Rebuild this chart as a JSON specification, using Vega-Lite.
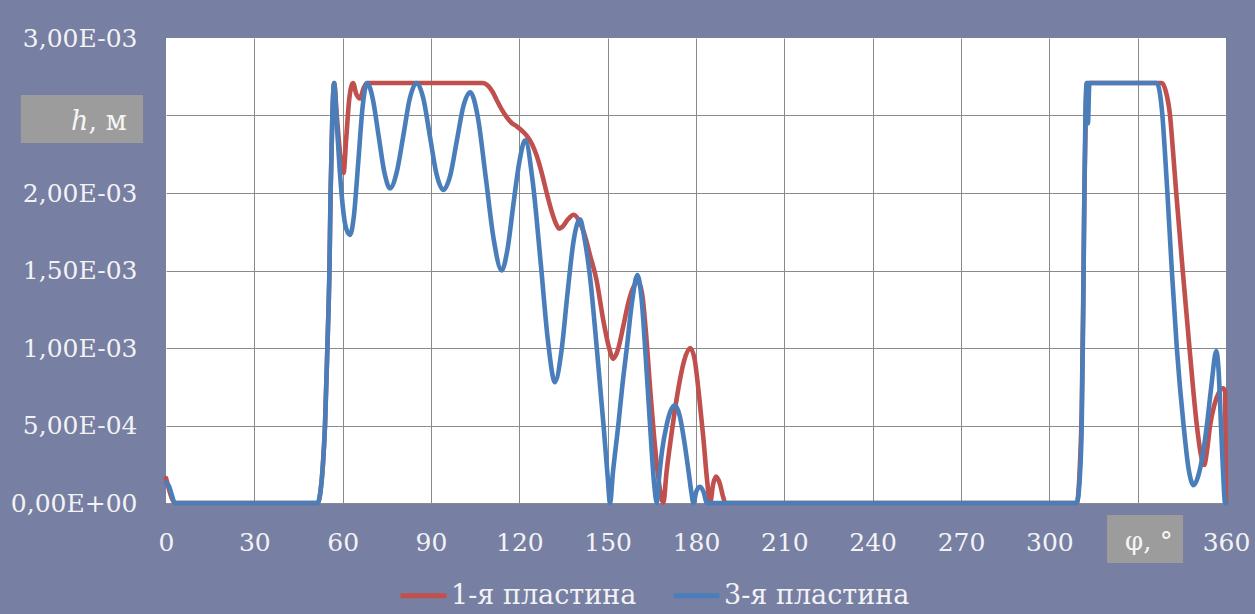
{
  "$schema": "https://vega.github.io/schema/vega-lite/v6.json",
  "width": 1060,
  "height": 465,
  "autosize": {"type": "none"},
  "padding": {"left": 166, "top": 38, "right": 29, "bottom": 111},
  "background": "#777fa3",
  "config": {
    "view": {"fill": "white", "stroke": null},
    "font": "DejaVu Serif"
  },
  "datasets": {
    "curves": [
      {"plate":"1-я пластина","phi":0,"h":0.16e-3},{"plate":"1-я пластина","phi":1,"h":0.09e-3},{"plate":"1-я пластина","phi":2,"h":0.03e-3},{"plate":"1-я пластина","phi":3,"h":0},
      {"plate":"1-я пластина","phi":51.5,"h":0},{"plate":"1-я пластина","phi":52.5,"h":0.08e-3},{"plate":"1-я пластина","phi":53.3,"h":0.25e-3},{"plate":"1-я пластина","phi":54,"h":0.5e-3},
      {"plate":"1-я пластина","phi":54.8,"h":1.0e-3},{"plate":"1-я пластина","phi":55.5,"h":1.5e-3},{"plate":"1-я пластина","phi":55.9,"h":2.0e-3},{"plate":"1-я пластина","phi":56.5,"h":2.5e-3},
      {"plate":"1-я пластина","phi":57.1,"h":2.71e-3},{"plate":"1-я пластина","phi":58,"h":2.5e-3},{"plate":"1-я пластина","phi":59,"h":2.28e-3},{"plate":"1-я пластина","phi":60.3,"h":2.13e-3},
      {"plate":"1-я пластина","phi":61.2,"h":2.35e-3},{"plate":"1-я пластина","phi":62.2,"h":2.6e-3},{"plate":"1-я пластина","phi":63.5,"h":2.71e-3},{"plate":"1-я пластина","phi":64.6,"h":2.64e-3},
      {"plate":"1-я пластина","phi":65.9,"h":2.61e-3},{"plate":"1-я пластина","phi":67,"h":2.67e-3},{"plate":"1-я пластина","phi":68.2,"h":2.71e-3},{"plate":"1-я пластина","phi":107.5,"h":2.71e-3},
      {"plate":"1-я пластина","phi":109.5,"h":2.69e-3},{"plate":"1-я пластина","phi":111,"h":2.65e-3},{"plate":"1-я пластина","phi":112.3,"h":2.6e-3},{"plate":"1-я пластина","phi":114,"h":2.54e-3},
      {"plate":"1-я пластина","phi":115.7,"h":2.49e-3},{"plate":"1-я пластина","phi":117.5,"h":2.45e-3},{"plate":"1-я пластина","phi":119.1,"h":2.43e-3},{"plate":"1-я пластина","phi":121,"h":2.4e-3},
      {"plate":"1-я пластина","phi":122.5,"h":2.37e-3},{"plate":"1-я пластина","phi":124.2,"h":2.32e-3},{"plate":"1-я пластина","phi":125.9,"h":2.24e-3},{"plate":"1-я пластина","phi":127.6,"h":2.13e-3},
      {"plate":"1-я пластина","phi":129.3,"h":2.0e-3},{"plate":"1-я пластина","phi":131,"h":1.88e-3},{"plate":"1-я пластина","phi":132.5,"h":1.8e-3},{"plate":"1-я пластина","phi":133.5,"h":1.77e-3},
      {"plate":"1-я пластина","phi":135,"h":1.79e-3},{"plate":"1-я пластина","phi":136.5,"h":1.83e-3},{"plate":"1-я пластина","phi":138.5,"h":1.86e-3},{"plate":"1-я пластина","phi":140.3,"h":1.82e-3},
      {"plate":"1-я пластина","phi":142,"h":1.74e-3},{"plate":"1-я пластина","phi":144,"h":1.6e-3},{"plate":"1-я пластина","phi":146.3,"h":1.43e-3},{"plate":"1-я пластина","phi":148.5,"h":1.18e-3},
      {"plate":"1-я пластина","phi":150.5,"h":1.0e-3},{"plate":"1-я пластина","phi":151.9,"h":0.93e-3},{"plate":"1-я пластина","phi":153.5,"h":0.99e-3},{"plate":"1-я пластина","phi":155.3,"h":1.14e-3},
      {"plate":"1-я пластина","phi":157,"h":1.29e-3},{"plate":"1-я пластина","phi":158.7,"h":1.39e-3},{"plate":"1-я пластина","phi":160.3,"h":1.43e-3},{"plate":"1-я пластина","phi":161.7,"h":1.35e-3},
      {"plate":"1-я пластина","phi":163,"h":1.1e-3},{"plate":"1-я пластина","phi":164.5,"h":0.72e-3},{"plate":"1-я пластина","phi":166,"h":0.38e-3},{"plate":"1-я пластина","phi":167.5,"h":0.12e-3},
      {"plate":"1-я пластина","phi":168.9,"h":0},{"plate":"1-я пластина","phi":170,"h":0.2e-3},{"plate":"1-я пластина","phi":171.5,"h":0.42e-3},{"plate":"1-я пластина","phi":173,"h":0.62e-3},
      {"plate":"1-я пластина","phi":174.5,"h":0.79e-3},{"plate":"1-я пластина","phi":176,"h":0.92e-3},{"plate":"1-я пластина","phi":178,"h":1.0e-3},{"plate":"1-я пластина","phi":179.5,"h":0.93e-3},
      {"plate":"1-я пластина","phi":181,"h":0.7e-3},{"plate":"1-я пластина","phi":182.5,"h":0.42e-3},{"plate":"1-я пластина","phi":183.8,"h":0.14e-3},{"plate":"1-я пластина","phi":184.8,"h":0},
      {"plate":"1-я пластина","phi":185.8,"h":0.12e-3},{"plate":"1-я пластина","phi":186.8,"h":0.17e-3},{"plate":"1-я пластина","phi":188,"h":0.13e-3},{"plate":"1-я пластина","phi":189.2,"h":0.04e-3},
      {"plate":"1-я пластина","phi":190,"h":0},{"plate":"1-я пластина","phi":309.3,"h":0},{"plate":"1-я пластина","phi":310.5,"h":0.3e-3},{"plate":"1-я пластина","phi":311,"h":0.6e-3},
      {"plate":"1-я пластина","phi":311.5,"h":1.3e-3},{"plate":"1-я пластина","phi":311.9,"h":2.0e-3},{"plate":"1-я пластина","phi":312.4,"h":2.55e-3},{"plate":"1-я пластина","phi":312.8,"h":2.71e-3},
      {"plate":"1-я пластина","phi":338.2,"h":2.71e-3},{"plate":"1-я пластина","phi":339.5,"h":2.66e-3},{"plate":"1-я пластина","phi":341,"h":2.5e-3},{"plate":"1-я пластина","phi":342,"h":2.27e-3},
      {"plate":"1-я пластина","phi":343.1,"h":2.0e-3},{"plate":"1-я пластина","phi":345.3,"h":1.5e-3},{"plate":"1-я пластина","phi":347.6,"h":1.0e-3},{"plate":"1-я пластина","phi":350.1,"h":0.5e-3},
      {"plate":"1-я пластина","phi":351.3,"h":0.33e-3},{"plate":"1-я пластина","phi":352.6,"h":0.245e-3},{"plate":"1-я пластина","phi":353.5,"h":0.33e-3},{"plate":"1-я пластина","phi":354.6,"h":0.5e-3},
      {"plate":"1-я пластина","phi":356,"h":0.63e-3},{"plate":"1-я пластина","phi":357.5,"h":0.71e-3},{"plate":"1-я пластина","phi":359,"h":0.74e-3},{"plate":"1-я пластина","phi":359.7,"h":0.72e-3},
      {"plate":"1-я пластина","phi":360,"h":0},

      {"plate":"3-я пластина","phi":0,"h":0.13e-3},{"plate":"3-я пластина","phi":1,"h":0.11e-3},{"plate":"3-я пластина","phi":2,"h":0.05e-3},{"plate":"3-я пластина","phi":3,"h":0},
      {"plate":"3-я пластина","phi":51.5,"h":0},{"plate":"3-я пластина","phi":52.5,"h":0.08e-3},{"plate":"3-я пластина","phi":53.3,"h":0.25e-3},{"plate":"3-я пластина","phi":54,"h":0.5e-3},
      {"plate":"3-я пластина","phi":54.8,"h":1.0e-3},{"plate":"3-я пластина","phi":55.5,"h":1.5e-3},{"plate":"3-я пластина","phi":55.9,"h":2.0e-3},{"plate":"3-я пластина","phi":56.5,"h":2.5e-3},
      {"plate":"3-я пластина","phi":57.1,"h":2.71e-3},{"plate":"3-я пластина","phi":58,"h":2.45e-3},{"plate":"3-я пластина","phi":59,"h":2.15e-3},{"plate":"3-я пластина","phi":60,"h":1.92e-3},
      {"plate":"3-я пластина","phi":61.2,"h":1.77e-3},{"plate":"3-я пластина","phi":62.5,"h":1.73e-3},{"plate":"3-я пластина","phi":63.8,"h":1.85e-3},{"plate":"3-я пластина","phi":65.3,"h":2.2e-3},
      {"plate":"3-я пластина","phi":66.8,"h":2.56e-3},{"plate":"3-я пластина","phi":68.3,"h":2.71e-3},{"plate":"3-я пластина","phi":70.2,"h":2.61e-3},{"plate":"3-я пластина","phi":72.2,"h":2.37e-3},
      {"plate":"3-я пластина","phi":74.2,"h":2.13e-3},{"plate":"3-я пластина","phi":76.1,"h":2.03e-3},{"plate":"3-я пластина","phi":78.3,"h":2.13e-3},{"plate":"3-я пластина","phi":80.6,"h":2.37e-3},
      {"plate":"3-я пластина","phi":82.8,"h":2.61e-3},{"plate":"3-я пластина","phi":85.1,"h":2.71e-3},{"plate":"3-я пластина","phi":87.4,"h":2.61e-3},{"plate":"3-я пластина","phi":89.6,"h":2.37e-3},
      {"plate":"3-я пластина","phi":91.9,"h":2.12e-3},{"plate":"3-я пластина","phi":94.2,"h":2.02e-3},{"plate":"3-я пластина","phi":96.5,"h":2.11e-3},{"plate":"3-я пластина","phi":98.8,"h":2.34e-3},
      {"plate":"3-я пластина","phi":101,"h":2.56e-3},{"plate":"3-я пластина","phi":103.3,"h":2.65e-3},{"plate":"3-я пластина","phi":105.9,"h":2.49e-3},{"plate":"3-я пластина","phi":108.6,"h":2.1e-3},
      {"plate":"3-я пластина","phi":111.3,"h":1.7e-3},{"plate":"3-я пластина","phi":114,"h":1.5e-3},{"plate":"3-я пластина","phi":116,"h":1.64e-3},{"plate":"3-я пластина","phi":118,"h":1.93e-3},
      {"plate":"3-я пластина","phi":120,"h":2.2e-3},{"plate":"3-я пластина","phi":122,"h":2.34e-3},{"plate":"3-я пластина","phi":124.5,"h":2.08e-3},{"plate":"3-я пластина","phi":127.3,"h":1.54e-3},
      {"plate":"3-я пластина","phi":129.7,"h":1.05e-3},{"plate":"3-я пластина","phi":132.1,"h":0.78e-3},{"plate":"3-я пластина","phi":134.3,"h":0.98e-3},{"plate":"3-я пластина","phi":136.4,"h":1.36e-3},
      {"plate":"3-я пластина","phi":138.5,"h":1.7e-3},{"plate":"3-я пластина","phi":140.6,"h":1.83e-3},{"plate":"3-я пластина","phi":142.2,"h":1.7e-3},{"plate":"3-я пластина","phi":144,"h":1.46e-3},
      {"plate":"3-я пластина","phi":146.3,"h":1.0e-3},{"plate":"3-я пластина","phi":148.6,"h":0.5e-3},{"plate":"3-я пластина","phi":150,"h":0.17e-3},{"plate":"3-я пластина","phi":150.8,"h":0},
      {"plate":"3-я пластина","phi":151.8,"h":0.2e-3},{"plate":"3-я пластина","phi":153.6,"h":0.5e-3},{"plate":"3-я пластина","phi":155,"h":0.76e-3},{"plate":"3-я пластина","phi":156.5,"h":1.0e-3},
      {"plate":"3-я пластина","phi":158.3,"h":1.3e-3},{"plate":"3-я пластина","phi":160.1,"h":1.47e-3},{"plate":"3-я пластина","phi":161.5,"h":1.32e-3},{"plate":"3-я пластина","phi":163,"h":0.92e-3},
      {"plate":"3-я пластина","phi":164.5,"h":0.47e-3},{"plate":"3-я пластина","phi":165.8,"h":0.12e-3},{"plate":"3-я пластина","phi":166.7,"h":0},{"plate":"3-я пластина","phi":167.5,"h":0.17e-3},
      {"plate":"3-я пластина","phi":168.5,"h":0.34e-3},{"plate":"3-я пластина","phi":170,"h":0.5e-3},{"plate":"3-я пластина","phi":171.5,"h":0.6e-3},{"plate":"3-я пластина","phi":172.9,"h":0.63e-3},
      {"plate":"3-я пластина","phi":174.5,"h":0.56e-3},{"plate":"3-я пластина","phi":176,"h":0.4e-3},{"plate":"3-я пластина","phi":177.5,"h":0.2e-3},{"plate":"3-я пластина","phi":178.5,"h":0.06e-3},
      {"plate":"3-я пластина","phi":179.1,"h":0},{"plate":"3-я пластина","phi":180.2,"h":0.08e-3},{"plate":"3-я пластина","phi":181.4,"h":0.105e-3},{"plate":"3-я пластина","phi":182.6,"h":0.07e-3},
      {"plate":"3-я пластина","phi":183.7,"h":0},{"plate":"3-я пластина","phi":309.3,"h":0},{"plate":"3-я пластина","phi":310.3,"h":0.15e-3},{"plate":"3-я пластина","phi":311,"h":0.5e-3},
      {"plate":"3-я пластина","phi":311.5,"h":1.2e-3},{"plate":"3-я пластина","phi":311.9,"h":2.0e-3},{"plate":"3-я пластина","phi":312.3,"h":2.55e-3},{"plate":"3-я пластина","phi":312.7,"h":2.71e-3},
      {"plate":"3-я пластина","phi":313.1,"h":2.45e-3},{"plate":"3-я пластина","phi":313.6,"h":2.71e-3},{"plate":"3-я пластина","phi":336.5,"h":2.71e-3},{"plate":"3-я пластина","phi":337.5,"h":2.65e-3},
      {"plate":"3-я пластина","phi":338.4,"h":2.5e-3},{"plate":"3-я пластина","phi":339.3,"h":2.25e-3},{"plate":"3-я пластина","phi":340.1,"h":2.0e-3},{"plate":"3-я пластина","phi":341.6,"h":1.5e-3},
      {"plate":"3-я пластина","phi":343.3,"h":1.0e-3},{"plate":"3-я пластина","phi":345.6,"h":0.5e-3},{"plate":"3-я пластина","phi":347.3,"h":0.22e-3},{"plate":"3-я пластина","phi":349,"h":0.115e-3},
      {"plate":"3-я пластина","phi":350.5,"h":0.17e-3},{"plate":"3-я пластина","phi":352,"h":0.3e-3},{"plate":"3-я пластина","phi":353.5,"h":0.5e-3},{"plate":"3-я пластина","phi":355,"h":0.75e-3},
      {"plate":"3-я пластина","phi":356.7,"h":0.98e-3},{"plate":"3-я пластина","phi":357.5,"h":0.85e-3},{"plate":"3-я пластина","phi":358.3,"h":0.5e-3},{"plate":"3-я пластина","phi":359,"h":0.2e-3},
      {"plate":"3-я пластина","phi":359.7,"h":0},{"plate":"3-я пластина","phi":360,"h":0}
    ],
    "boxes": [
      {"name": "y", "x1": -49.3, "x2": -7.8, "y1": 2.632e-3, "y2": 2.323e-3},
      {"name": "x", "x1": 319.6, "x2": 345.4, "y1": -0.077e-3, "y2": -0.387e-3}
    ],
    "titles": [
      {"text": "h", "x": -26.4, "y": 2.406e-3},
      {"text": ", м", "x": -26.3, "y": 2.406e-3},
      {"text": "φ, °", "x": 333.8, "y": -0.303e-3}
    ]
  },
  "layer": [
    {
      "data": {"name": "curves"},
      "mark": {"type": "line", "interpolate": "monotone", "strokeWidth": 4.6, "strokeJoin": "round", "strokeCap": "round"},
      "encoding": {
        "x": {
          "field": "phi", "type": "quantitative", "title": null,
          "scale": {"domain": [0, 360], "nice": false, "zero": false},
          "axis": {
            "values": [0, 30, 60, 90, 120, 150, 180, 210, 240, 270, 300, 330, 360],
            "labelExpr": "datum.value == 330 ? '' : datum.label",
            "title": null, "ticks": false, "domain": false,
            "labelFont": "DejaVu Serif", "labelFontSize": 25, "labelColor": "#f3f3f5",
            "labelPadding": 27, "labelFlush": false, "labelOverlap": false,
            "gridColor": "#8a8a8a", "gridWidth": 1,
            "gridOpacity": {"condition": {"test": "datum.value == 0 || datum.value == 360", "value": 0}, "value": 1}
          }
        },
        "y": {
          "field": "h", "type": "quantitative", "title": null,
          "scale": {"domain": [0, 0.003], "nice": false, "zero": false},
          "axis": {
            "values": [0, 0.0005, 0.001, 0.0015, 0.002, 0.0025, 0.003],
            "labelExpr": "datum.value == 0 ? '0,00E+00' : datum.value == 0.0025 ? '' : replace(replace(upper(format(datum.value, '.2e')), '.', ','), 'E-', 'E-0')",
            "title": null, "ticks": false, "domain": false,
            "labelFont": "DejaVu Serif", "labelFontSize": 25, "labelColor": "#f3f3f5",
            "labelPadding": 29, "labelFlush": false, "labelOverlap": false,
            "gridColor": "#8a8a8a", "gridWidth": 1,
            "gridOpacity": {"condition": {"test": "datum.value >= 0.003", "value": 0}, "value": 1}
          }
        },
        "color": {
          "field": "plate", "type": "nominal",
          "scale": {"domain": ["1-я пластина", "3-я пластина"], "range": ["#c0504d", "#4a7ebb"]},
          "legend": {
            "orient": "none", "legendX": 232, "legendY": 532, "direction": "horizontal",
            "title": null, "symbolType": "stroke", "symbolStrokeWidth": 5, "symbolSize": 2100,
            "labelFont": "DejaVu Serif", "labelFontSize": 27, "labelColor": "#f3f3f5",
            "labelLimit": 0, "labelOffset": 2, "columnPadding": 26
          }
        }
      }
    },
    {
      "data": {"name": "boxes"},
      "mark": {"type": "rect", "color": "#9c9c9c", "opacity": 1},
      "encoding": {
        "x": {"field": "x1", "type": "quantitative", "title": null},
        "x2": {"field": "x2"},
        "y": {"field": "y1", "type": "quantitative", "title": null},
        "y2": {"field": "y2"}
      }
    },
    {
      "data": {"name": "titles"},
      "transform": [{"filter": "datum.text == 'h'"}],
      "mark": {"type": "text", "font": "DejaVu Serif", "fontSize": 27, "fontStyle": "italic", "color": "#f6f6f6", "baseline": "alphabetic", "align": "right"},
      "encoding": {
        "x": {"field": "x", "type": "quantitative", "title": null},
        "y": {"field": "y", "type": "quantitative", "title": null},
        "text": {"field": "text"}
      }
    },
    {
      "data": {"name": "titles"},
      "transform": [{"filter": "datum.text == ', м'"}],
      "mark": {"type": "text", "font": "DejaVu Serif", "fontSize": 27, "color": "#f6f6f6", "baseline": "alphabetic", "align": "left"},
      "encoding": {
        "x": {"field": "x", "type": "quantitative", "title": null},
        "y": {"field": "y", "type": "quantitative", "title": null},
        "text": {"field": "text"}
      }
    },
    {
      "data": {"name": "titles"},
      "transform": [{"filter": "datum.text == 'φ, °'"}],
      "mark": {"type": "text", "font": "DejaVu Serif", "fontSize": 26, "color": "#f6f6f6", "baseline": "alphabetic", "align": "center"},
      "encoding": {
        "x": {"field": "x", "type": "quantitative", "title": null},
        "y": {"field": "y", "type": "quantitative", "title": null},
        "text": {"field": "text"}
      }
    }
  ]
}
